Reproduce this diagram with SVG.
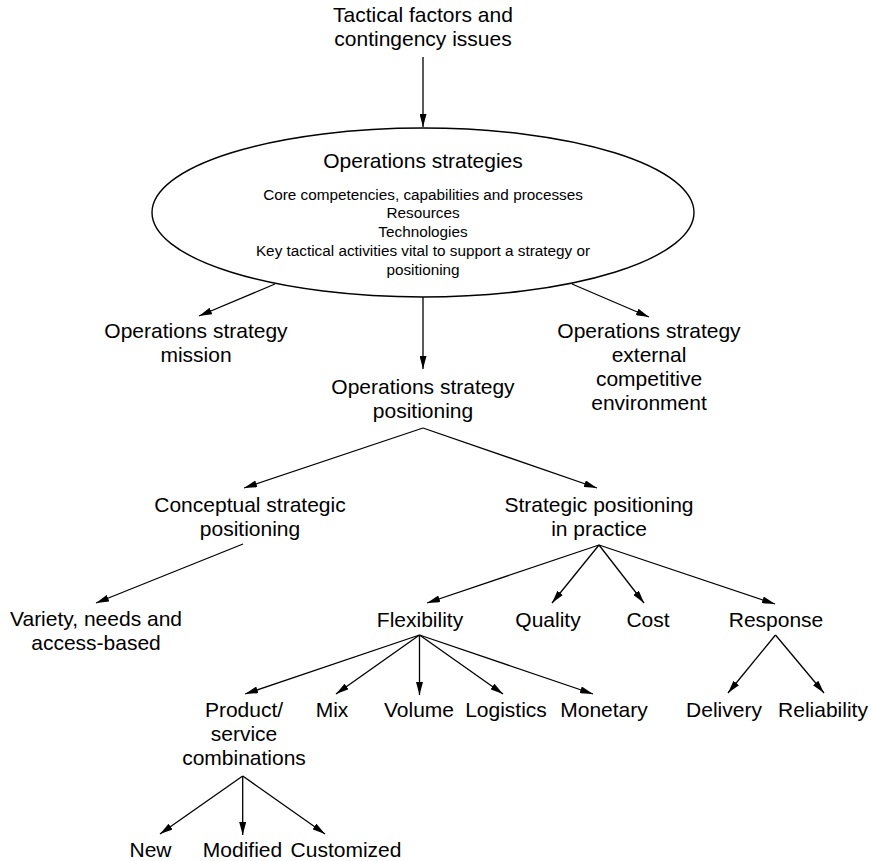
<svg xmlns="http://www.w3.org/2000/svg" width="871" height="861" viewBox="0 0 871 861">
  <defs>
    <marker id="arrow" viewBox="0 0 13 7" refX="13" refY="3.5" markerWidth="13" markerHeight="7" markerUnits="userSpaceOnUse" orient="auto">
      <path d="M0,0 L13,3.5 L0,7 z" fill="#000"/>
    </marker>
    <style>
      text { font-family: "Liberation Sans", Arial, Helvetica, sans-serif; fill: #000; text-anchor: middle; }
      .n { font-size: 21px; }
      .s { font-size: 15.3px; }
      .c line { stroke: #000; stroke-width: 1.3; marker-end: url(#arrow); }
      .shape { fill: #fff; stroke: #000; stroke-width: 1.4; }
    </style>
  </defs>
  <rect width="871" height="861" fill="#fff"/>

  <!-- connectors -->
  <g id="connectors" class="c">
    <line x1="423" y1="57" x2="423" y2="127"/>
    <line x1="275" y1="284" x2="199" y2="316"/>
    <line x1="423" y1="297" x2="423" y2="369"/>
    <line x1="572" y1="284" x2="649" y2="317"/>
    <line x1="423" y1="428" x2="244" y2="488"/>
    <line x1="423" y1="428" x2="597" y2="488"/>
    <line x1="243" y1="544" x2="96" y2="603"/>
    <line x1="599" y1="545" x2="427" y2="603"/>
    <line x1="599" y1="545" x2="552" y2="603"/>
    <line x1="599" y1="545" x2="644" y2="603"/>
    <line x1="599" y1="545" x2="775" y2="604"/>
    <line x1="419.5" y1="635" x2="245" y2="694"/>
    <line x1="419.5" y1="635" x2="336" y2="694"/>
    <line x1="419.5" y1="635" x2="419.5" y2="695"/>
    <line x1="419.5" y1="635" x2="503" y2="694"/>
    <line x1="419.5" y1="635" x2="593" y2="694"/>
    <line x1="775.5" y1="635" x2="728" y2="693"/>
    <line x1="775.5" y1="635" x2="824" y2="693"/>
    <line x1="242.7" y1="776" x2="160" y2="834"/>
    <line x1="242.7" y1="776" x2="242.7" y2="835"/>
    <line x1="242.7" y1="776" x2="325" y2="834"/>
  </g>

  <g id="tactical">
    <text class="n" x="423" y="22">Tactical factors and</text>
    <text class="n" x="423" y="46">contingency issues</text>
  </g>

  <g id="operations-strategies">
    <ellipse class="shape" cx="423" cy="212.5" rx="271" ry="84.5"/>
    <text class="n" x="423" y="168">Operations strategies</text>
    <text class="s" x="423" y="199.5">Core competencies, capabilities and processes</text>
    <text class="s" x="423" y="218">Resources</text>
    <text class="s" x="423" y="237">Technologies</text>
    <text class="s" x="423" y="256">Key tactical activities vital to support a strategy or</text>
    <text class="s" x="423" y="274.5">positioning</text>
  </g>

  <g id="mission">
    <text class="n" x="196" y="338">Operations strategy</text>
    <text class="n" x="196" y="362">mission</text>
  </g>

  <g id="positioning">
    <text class="n" x="423" y="394">Operations strategy</text>
    <text class="n" x="423" y="418">positioning</text>
  </g>

  <g id="environment">
    <text class="n" x="649" y="338">Operations strategy</text>
    <text class="n" x="649" y="362">external</text>
    <text class="n" x="649" y="386">competitive</text>
    <text class="n" x="649" y="410">environment</text>
  </g>

  <g id="conceptual">
    <text class="n" x="250" y="512">Conceptual strategic</text>
    <text class="n" x="250" y="536">positioning</text>
  </g>

  <g id="in-practice">
    <text class="n" x="599" y="512">Strategic positioning</text>
    <text class="n" x="599" y="536">in practice</text>
  </g>

  <g id="variety">
    <text class="n" x="96" y="626">Variety, needs and</text>
    <text class="n" x="96" y="650">access-based</text>
  </g>

  <g id="flexibility"><text class="n" x="420" y="627">Flexibility</text></g>
  <g id="quality"><text class="n" x="548" y="627">Quality</text></g>
  <g id="cost"><text class="n" x="648" y="627">Cost</text></g>
  <g id="response"><text class="n" x="776" y="627">Response</text></g>

  <g id="product-service">
    <text class="n" x="244" y="717">Product/</text>
    <text class="n" x="244" y="741">service</text>
    <text class="n" x="244" y="765">combinations</text>
  </g>
  <g id="mix"><text class="n" x="332" y="717">Mix</text></g>
  <g id="volume"><text class="n" x="419" y="717">Volume</text></g>
  <g id="logistics"><text class="n" x="506" y="717">Logistics</text></g>
  <g id="monetary"><text class="n" x="604" y="717">Monetary</text></g>
  <g id="delivery"><text class="n" x="724" y="717">Delivery</text></g>
  <g id="reliability"><text class="n" x="823" y="717">Reliability</text></g>

  <g id="new"><text class="n" x="150.5" y="857">New</text></g>
  <g id="modified"><text class="n" x="242.5" y="857">Modified</text></g>
  <g id="customized"><text class="n" x="346" y="857">Customized</text></g>
</svg>
